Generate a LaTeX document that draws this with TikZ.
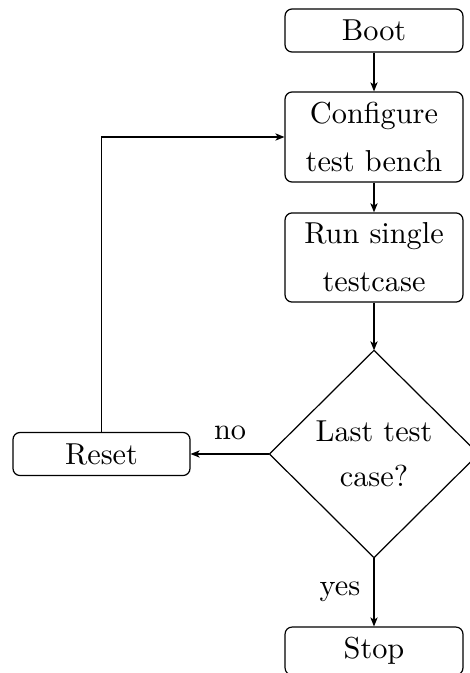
\documentclass[tikz,border=0pt]{standalone}
\usetikzlibrary{arrows.meta}
\begin{document}
\begin{tikzpicture}[x=0.33pt,y=-0.33pt,
  box/.style={draw,rounded corners=2.3pt,inner sep=0pt,minimum width=58.7pt,align=center,
    font=\fontsize{10}{15.8}\selectfont},
  decbox/.style={inner sep=0pt,minimum width=68.6pt,minimum height=68pt,align=center,
    font=\fontsize{10}{14.9}\selectfont},
  conn/.style={-{Stealth[length=3pt,width=2.4pt,inset=0.8pt]}},
  lbl/.style={font=\fontsize{10}{12}\selectfont}]
\useasboundingbox (0,0) rectangle (470,673);
\clip (0,0) rectangle (470,673);
\node[box,minimum height=14.2pt] (boot) at (374,30.5) {Boot};
\node[box,minimum height=29.7pt] (conf) at (374,137) {Configure\\test bench};
\node[box,minimum height=29.4pt] (run) at (374,257.5) {Run single\\testcase};
\node[decbox] (dec) at (374,454) {Last test\\case?};
\draw (dec.north) -- (dec.east) -- (dec.south) -- (dec.west) -- cycle;
\node[box,minimum width=58.4pt,minimum height=14.2pt] (reset) at (101.5,454) {Reset};
\node[box,minimum height=15.8pt] (stop) at (374,651) {Stop};
\draw[conn] (boot) -- (conf);
\draw[conn] (conf) -- (run);
\draw[conn] (run) -- (dec.north);
\draw[conn] (dec.west) -- node[lbl,above=1pt] {no} (reset);
\draw[conn] (reset.north) |- (conf.west);
\draw[conn] (dec.south) -- node[lbl,left=1pt] {yes} (stop);
\end{tikzpicture}
\end{document}
